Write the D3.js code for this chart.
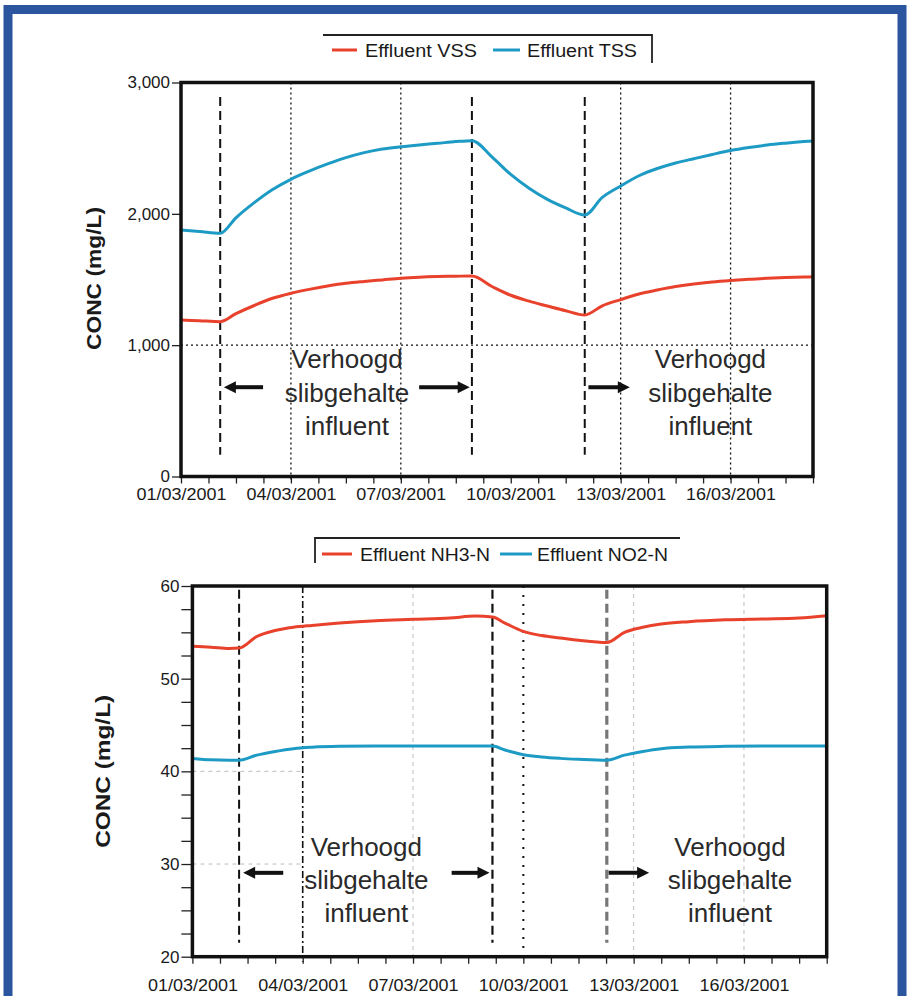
<!DOCTYPE html>
<html>
<head>
<meta charset="utf-8">
<script src="https://cdn.jsdelivr.net/npm/d3@7"></script>
<style>
  body { margin: 0; background: #fff; }
  svg { display: block; font-family: Arial, "Liberation Sans", sans-serif; }
</style>
</head>
<body>
<svg id="chart" width="910" height="996"></svg>
<script>
// ---- data (days since 01/03/2001) ----
const xTickDays = [0, 3, 6, 9, 12, 15];
const xTickLabels = ['01/03/2001', '04/03/2001', '07/03/2001', '10/03/2001', '13/03/2001', '16/03/2001'];
const xEndDay = 17.25;

// top panel: effluent solids
const solidsDays = [0, 0.5, 1.07, 1.5, 2, 2.5, 3, 3.5, 4, 4.5, 5, 5.5, 6, 6.5, 7, 7.5, 7.94,
  8.5, 9, 9.5, 10, 10.5, 11.02, 11.5, 12, 12.5, 13, 13.5, 14, 14.5, 15, 15.5, 16, 16.5, 17, 17.25];
const tssValues = [1877, 1866, 1852, 1970, 2085, 2185, 2263, 2325, 2380, 2428, 2466, 2494, 2511, 2525, 2537, 2550, 2557,
  2430, 2300, 2195, 2110, 2045, 1991, 2125, 2212, 2290, 2345, 2387, 2420, 2452, 2482, 2505, 2524, 2538, 2550, 2555];
const vssValues = [1192, 1186, 1179, 1240, 1302, 1357, 1395, 1425, 1450, 1471, 1485, 1497, 1509, 1517, 1522, 1525, 1527,
  1445, 1380, 1335, 1298, 1262, 1230, 1300, 1347, 1390, 1420, 1446, 1466, 1481, 1492, 1501, 1509, 1515, 1519, 1521];
const solidsEvents = [1.07, 7.94, 11.02];
const solidsYTicks = [0, 1000, 2000, 3000];

// bottom panel: effluent nitrogen
const nDays = [0, 0.5, 1.0, 1.27, 1.75, 2.25, 2.75, 3.25, 4, 5, 6, 7, 7.7, 8.16,
  8.5, 9, 9.5, 10, 10.5, 11.27, 11.75, 12.25, 12.75, 13.5, 14.5, 15.5, 16.5, 17.25];
const nh3Values = [53.5, 53.4, 53.25, 53.3, 54.55, 55.2, 55.55, 55.75, 56.0, 56.25, 56.4, 56.55, 56.75, 56.65,
  56.0, 55.1, 54.65, 54.4, 54.15, 53.9, 55.0, 55.55, 55.9, 56.15, 56.35, 56.45, 56.55, 56.8];
const no2Values = [41.4, 41.25, 41.2, 41.2, 41.75, 42.15, 42.45, 42.6, 42.7, 42.73, 42.73, 42.73, 42.73, 42.73,
  42.3, 41.8, 41.55, 41.4, 41.3, 41.2, 41.75, 42.15, 42.45, 42.62, 42.7, 42.73, 42.73, 42.73];
const nEvents = [1.27, 8.16, 11.27];
const nYTicks = [20, 30, 40, 50, 60];

const annotationLines = ['Verhoogd', 'slibgehalte', 'influent'];

const RED = '#e8412c';
const BLUE = '#1d9bc4';

const svg = d3.select('#chart');

// blue frame around the whole figure
svg.append('rect')
  .attr('x', 8).attr('y', 9.5).attr('width', 894).attr('height', 1010)
  .attr('fill', '#fff').attr('stroke', '#2c55a0').attr('stroke-width', 9);

const gridStyles = {
  dot:     {stroke: '#111', width: 1.3, dash: '2,3'},
  dashdot: {stroke: '#111', width: 1.6, dash: '7,3,2,3'},
  sparse:  {stroke: '#111', width: 2,   dash: '2,7'},
  faint:   {stroke: '#bdbdbd', width: 1, dash: '4,4'}
};

function drawPanel(cfg){
  const g = svg.append('g');
  const x = d3.scaleLinear().domain([0, xEndDay]).range([cfg.left, cfg.right]);
  const y = d3.scaleLinear().domain(cfg.yDomain).range([cfg.bottom, cfg.top]);

  // vertical grid
  g.selectAll('.vgrid').data(cfg.vGrid).enter().append('line')
    .attr('x1', d => x(d.day)).attr('x2', d => x(d.day))
    .attr('y1', cfg.top).attr('y2', cfg.bottom + 5)
    .attr('stroke', d => gridStyles[d.style].stroke)
    .attr('stroke-width', d => gridStyles[d.style].width)
    .attr('stroke-dasharray', d => gridStyles[d.style].dash);

  // horizontal grid
  g.selectAll('.hgrid').data(cfg.hGrid).enter().append('line')
    .attr('x1', cfg.left).attr('x2', d => d.toDay == null ? cfg.right : x(d.toDay))
    .attr('y1', d => y(d.v)).attr('y2', d => y(d.v))
    .attr('stroke', d => gridStyles[d.style].stroke)
    .attr('stroke-width', d => gridStyles[d.style].width)
    .attr('stroke-dasharray', d => gridStyles[d.style].dash);

  // event lines
  g.selectAll('.event').data(cfg.events).enter().append('line')
    .attr('x1', d => x(d)).attr('x2', d => x(d))
    .attr('y1', y(cfg.eventSpan[1])).attr('y2', y(cfg.eventSpan[0]))
    .attr('stroke', (d, i) => cfg.eventColors[i])
    .attr('stroke-width', (d, i) => cfg.eventWidths[i])
    .attr('stroke-dasharray', '9,5');

  // series
  const line = d3.line().x(d => x(d[0])).y(d => y(d[1])).curve(d3.curveMonotoneX);
  cfg.series.forEach(s => {
    g.append('path')
      .datum(cfg.days.map((d, i) => [d, s.values[i]]))
      .attr('fill', 'none').attr('stroke', s.color).attr('stroke-width', 3)
      .attr('stroke-linejoin', 'round')
      .attr('d', line);
  });

  // annotation texts
  cfg.annotations.forEach(a => {
    annotationLines.forEach((t, i) => {
      g.append('text')
        .attr('x', x(a.day)).attr('y', y(a.value) + i * cfg.lineStep)
        .attr('text-anchor', 'middle')
        .attr('font-size', 26).attr('fill', '#2a2a2a')
        .text(t);
    });
  });

  // arrows
  cfg.arrows.forEach(a => {
    const x0 = x(a[0]), x1 = x(a[1]), yy = y(cfg.arrowValue);
    const dir = Math.sign(x1 - x0);
    g.append('line')
      .attr('x1', x0).attr('x2', x1 - dir * 9)
      .attr('y1', yy).attr('y2', yy)
      .attr('stroke', '#111').attr('stroke-width', 4);
    g.append('path')
      .attr('d', `M${x1},${yy} L${x1 - dir * 12},${yy - 6} L${x1 - dir * 12},${yy + 6} Z`)
      .attr('fill', '#111');
  });

  // axes
  const minorTicks = d3.range(0, xEndDay + 0.01, 0.75);
  const xAxis = d3.axisBottom(x)
    .tickValues(minorTicks)
    .tickSize(7)
    .tickPadding(cfg.xPad)
    .tickFormat(d => {
      const i = xTickDays.indexOf(d);
      return i < 0 ? '' : xTickLabels[i];
    });
  const gx = g.append('g').attr('transform', `translate(0,${cfg.bottom})`).call(xAxis);
  gx.select('.domain').remove();
  gx.selectAll('line').attr('stroke', '#222').attr('stroke-width', 1.3);
  gx.selectAll('text').filter(function(){ return this.textContent; })
    .attr('font-size', 17).attr('fill', '#1a1a1a')
    .attr('textLength', 90).attr('lengthAdjust', 'spacingAndGlyphs');

  const yAxis = d3.axisLeft(y)
    .tickValues(cfg.yMinor)
    .tickSize(cfg.yTickSize)
    .tickPadding(2)
    .tickFormat(d => cfg.yTicks.includes(d) ? cfg.yFormat(d) : '');
  const gy = g.append('g').attr('transform', `translate(${cfg.left},0)`).call(yAxis);
  gy.select('.domain').remove();
  gy.selectAll('line').attr('stroke', '#222').attr('stroke-width', 1.3);
  gy.selectAll('text').attr('font-size', 17).attr('fill', '#1a1a1a');

  // plot border
  g.append('rect')
    .attr('x', cfg.left).attr('y', cfg.top)
    .attr('width', cfg.right - cfg.left).attr('height', cfg.bottom - cfg.top)
    .attr('fill', 'none').attr('stroke', '#111').attr('stroke-width', 3.5);

  // y title
  g.append('text')
    .attr('transform', `translate(${cfg.titleX},${(cfg.top + cfg.bottom) / 2 + cfg.titleDy}) rotate(-90)`)
    .attr('text-anchor', 'middle')
    .attr('font-size', 20).attr('font-weight', 'bold').attr('fill', '#1a1a1a')
    .attr('textLength', cfg.titleLen).attr('lengthAdjust', 'spacingAndGlyphs')
    .text('CONC (mg/L)');

  // legend
  const L = cfg.legend;
  const lg = g.append('g');
  lg.append('path')
    .attr('d', L.side === 'right'
      ? `M${L.x0},${L.yTop} H${L.x1} V${L.yBottom}`
      : `M${L.x0},${L.yBottom} V${L.yTop} H${L.x1}`)
    .attr('fill', 'none').attr('stroke', '#222').attr('stroke-width', 1.8);
  L.items.forEach(it => {
    lg.append('line')
      .attr('x1', it.sx).attr('x2', it.sx + it.sw)
      .attr('y1', L.baseline - 7).attr('y2', L.baseline - 7)
      .attr('stroke', it.color).attr('stroke-width', 3);
    lg.append('text')
      .attr('x', it.tx).attr('y', L.baseline)
      .attr('font-size', 18).attr('fill', '#1a1a1a')
      .attr('textLength', it.tw).attr('lengthAdjust', 'spacingAndGlyphs')
      .text(it.label);
  });
}

drawPanel({
  left: 181, right: 813, top: 82.5, bottom: 476.5,
  yDomain: [0, 3000],
  yTicks: solidsYTicks, yMinor: solidsYTicks, yTickSize: 9,
  yFormat: d3.format(','),
  xPad: 4,
  days: solidsDays,
  series: [{values: vssValues, color: RED}, {values: tssValues, color: BLUE}],
  events: solidsEvents,
  eventSpan: [165, 2890],
  eventColors: ['#111', '#111', '#111'],
  eventWidths: [2, 2, 2],
  vGrid: [{day: 3, style: 'dot'}, {day: 6, style: 'dot'}, {day: 12, style: 'dot'}, {day: 15, style: 'dot'}],
  hGrid: [{v: 1000, style: 'dot'}],
  annotations: [{day: 4.53, value: 826}, {day: 14.45, value: 826}],
  lineStep: 33.5,
  arrows: [[2.24, 1.17], [6.5, 7.88], [11.12, 12.25]],
  arrowValue: 680,
  titleX: 101, titleDy: -1, titleLen: 143,
  legend: {
    side: 'right', x0: 323, x1: 652, yTop: 35, yBottom: 63, baseline: 57,
    items: [
      {label: 'Effluent VSS', color: RED, sx: 332, sw: 25, tx: 365, tw: 112},
      {label: 'Effluent TSS', color: BLUE, sx: 493, sw: 27, tx: 527, tw: 110}
    ]
  }
});

drawPanel({
  left: 192.4, right: 826.7, top: 586, bottom: 956.7,
  yDomain: [20, 60],
  yTicks: nYTicks, yMinor: d3.range(20, 60.1, 2.5), yTickSize: 11,
  yFormat: d3.format('d'),
  xPad: 15,
  days: nDays,
  series: [{values: nh3Values, color: RED}, {values: no2Values, color: BLUE}],
  events: nEvents,
  eventSpan: [21.5, 59.6],
  eventColors: ['#111', '#111', '#777'],
  eventWidths: [2, 2.2, 3.2],
  vGrid: [{day: 3, style: 'dashdot'}, {day: 6, style: 'faint'}, {day: 9, style: 'sparse'},
          {day: 12, style: 'faint'}, {day: 15, style: 'faint'}],
  hGrid: [{v: 40, style: 'faint', toDay: 3}, {v: 30, style: 'faint', toDay: 3}],
  annotations: [{day: 4.73, value: 30.87}, {day: 14.62, value: 30.87}],
  lineStep: 33,
  arrows: [[2.47, 1.38], [7.05, 8.08], [11.32, 12.42]],
  arrowValue: 29.05,
  titleX: 110, titleDy: 0, titleLen: 153,
  legend: {
    side: 'left', x0: 315, x1: 680, yTop: 538, yBottom: 563, baseline: 561,
    items: [
      {label: 'Effluent NH3-N', color: RED, sx: 322, sw: 30, tx: 360, tw: 130},
      {label: 'Effluent NO2-N', color: BLUE, sx: 500, sw: 32, tx: 537, tw: 131}
    ]
  }
});
</script>
</body>
</html>
